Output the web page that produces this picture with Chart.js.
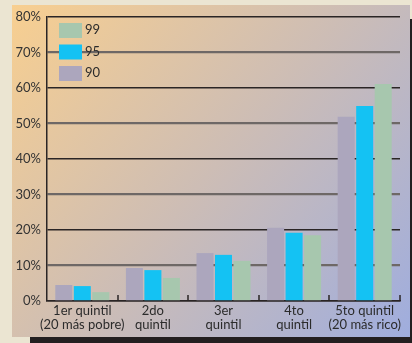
<!DOCTYPE html>
<html>
<head>
<meta charset="utf-8">
<script src="https://cdn.jsdelivr.net/npm/chart.js@4/dist/chart.umd.min.js"></script>
<style>
  html, body { margin: 0; padding: 0; background: #ebe5d2; }
  canvas { display: block; }
</style>
</head>
<body>
<canvas id="c" width="412" height="343"></canvas>
<script>
// Share of income by quintile, survey years 1990, 1995, 1999
const categories = [
  ['1er quintil', '(20 más pobre)'],
  ['2do', 'quintil'],
  ['3er', 'quintil'],
  ['4to', 'quintil'],
  ['5to quintil', '(20 más rico)']
];
const seriesNames = ['90', '95', '99'];
const values90 = [4.5, 9.3, 13.5, 20.6, 51.9];
const values95 = [4.2, 8.7, 13.0, 19.2, 54.9];
const values99 = [2.5, 6.5, 11.3, 18.5, 61.1];
const yTicks = [0, 10, 20, 30, 40, 50, 60, 70, 80];

const colors = ['#aca6bd', '#14c2f3', '#a7c7ae'];
const FONT = 'Lato, "Open Sans", sans-serif';

// Page panel: cream page, dark drop shadow, diagonal warm-to-cool gradient
const panelBg = {
  id: 'panelBg',
  beforeDraw(chart) {
    const ctx = chart.ctx;
    ctx.save();
    ctx.fillStyle = '#ebe5d2';
    ctx.fillRect(0, 0, chart.width, chart.height);
    ctx.fillStyle = '#231f20';
    ctx.fillRect(30, 19, chart.width - 30, chart.height - 19);
    const g = ctx.createLinearGradient(12, 5, 410, 337);
    g.addColorStop(0, '#f8cf90');
    g.addColorStop(0.5, '#cdbdb5');
    g.addColorStop(1, '#9fadde');
    ctx.fillStyle = g;
    ctx.fillRect(12, 5, 398, 332);
    ctx.restore();
  }
};

// Small upward ticks on the category axis at group boundaries, plus the legend
const extras = {
  id: 'extras',
  afterDatasetsDraw(chart) {
    const ctx = chart.ctx;
    const area = chart.chartArea;
    const x = chart.scales.x;
    const n = chart.data.labels.length;
    const w = (area.right - area.left) / n;
    ctx.save();
    ctx.strokeStyle = '#2a2525';
    ctx.lineWidth = 1.5;
    for (let i = 1; i <= n; i++) {
      const px = Math.round(x.getPixelForValue(i - 1) + w / 2);
      ctx.beginPath();
      ctx.moveTo(px, area.bottom);
      ctx.lineTo(px, area.bottom - 6);
      ctx.stroke();
    }
    // legend, newest series on top
    const ds = chart.data.datasets.slice().reverse();
    ctx.font = '13px ' + FONT;
    ctx.textBaseline = 'middle';
    ctx.textAlign = 'left';
    ds.forEach((d, i) => {
      const top = 23 + i * 21.5;
      ctx.fillStyle = d.backgroundColor;
      ctx.fillRect(59, top, 23, 15);
      ctx.fillStyle = '#2b2b2b';
      ctx.fillText(d.label, 85, top + 7);
    });
    ctx.restore();
  }
};

new Chart(document.getElementById('c'), {
  type: 'bar',
  data: {
    labels: categories,
    datasets: [
      { label: seriesNames[0], data: values90, backgroundColor: colors[0] },
      { label: seriesNames[1], data: values95, backgroundColor: colors[1] },
      { label: seriesNames[2], data: values99, backgroundColor: colors[2] }
    ]
  },
  options: {
    responsive: false,
    animation: false,
    layout: { padding: { top: 17, right: 12, left: 0, bottom: 0 } },
    datasets: { bar: { categoryPercentage: 0.786, barPercentage: 0.92 } },
    plugins: { legend: { display: false }, tooltip: { enabled: false } },
    scales: {
      x: {
        grid: { display: false, drawTicks: false },
        border: { display: true, color: '#2a2525', width: 1.5 },
        ticks: { color: '#2b2b2b', font: { family: FONT, size: 13, lineHeight: 1.08 }, padding: 3, maxRotation: 0, autoSkip: false },
        afterFit(scale) { scale.height = 42; }
      },
      y: {
        min: 0, max: 80,
        afterBuildTicks(scale) { scale.ticks = yTicks.map(v => ({ value: v })); },
        grid: {
          drawTicks: false,
          color: c => (c.tick && c.tick.value % 20 === 0) ? '#2a2525' : '#6e6866',
          lineWidth: c => (c.tick && c.tick.value % 20 === 0) ? 1.5 : 2.2
        },
        border: { display: true, color: '#2a2525', width: 1.5 },
        ticks: { color: '#333', font: { family: FONT, size: 13 }, padding: 6, callback: v => v + '%' },
        afterFit(scale) { scale.width = 47; }
      }
    }
  },
  plugins: [panelBg, extras]
});
</script>
</body>
</html>
